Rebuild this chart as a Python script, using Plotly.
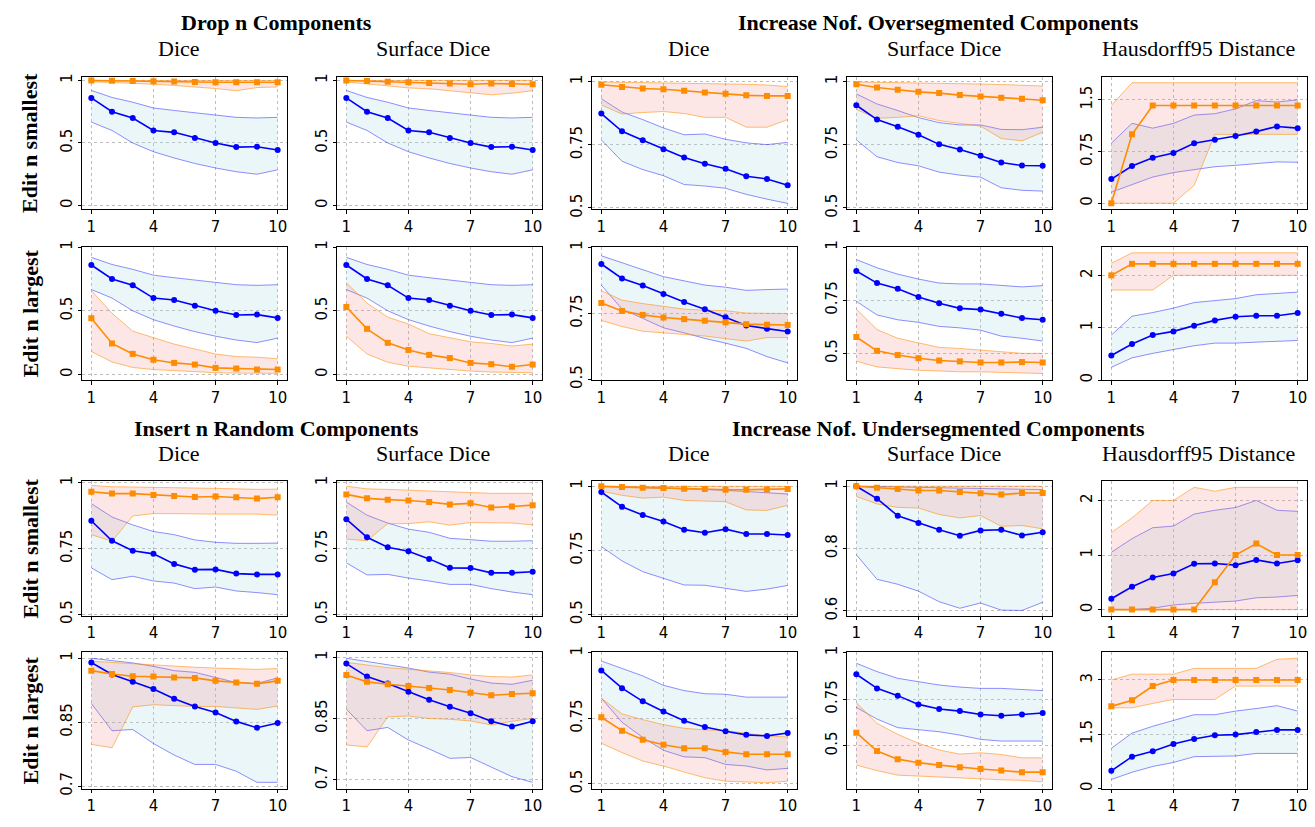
import plotly.graph_objects as go

# ---------------- data ----------------
X = [1, 2, 3, 4, 5, 6, 7, 8, 9, 10]
X_TICKS = [1, 4, 7, 10]

group_titles = ["Drop n Components", "Increase Nof. Oversegmented Components",
                "Insert n Random Components", "Increase Nof. Undersegmented Components"]
col_titles = ["Dice", "Surface Dice", "Dice", "Surface Dice", "Hausdorff95 Distance"]
row_titles = ["Edit n smallest", "Edit n largest", "Edit n smallest", "Edit n largest"]

# Drop n Components (blue identical in all four panels)
drop_blue_mean = [0.86, 0.75, 0.70, 0.60, 0.585, 0.54, 0.50, 0.467, 0.47, 0.444]
drop_blue_up = [0.92, 0.864, 0.826, 0.78, 0.76, 0.74, 0.72, 0.705, 0.70, 0.705]
drop_blue_lo = [0.667, 0.60, 0.50, 0.43, 0.38, 0.336, 0.30, 0.27, 0.25, 0.285]

r1c1_or_mean = [1.0, 0.997, 0.995, 0.993, 0.992, 0.988, 0.985, 0.985, 0.985, 0.985]
r1c1_or_up = [1.0, 1.0, 1.0, 1.0, 1.0, 1.0, 1.0, 1.0, 1.0, 1.0]
r1c1_or_lo = [0.99, 0.985, 0.975, 0.97, 0.96, 0.95, 0.935, 0.918, 0.943, 0.948]

r1c2_or_mean = [1.0, 0.995, 0.99, 0.985, 0.98, 0.975, 0.97, 0.975, 0.972, 0.97]
r1c2_or_up = [1.0, 1.0, 1.0, 1.0, 1.0, 1.0, 1.0, 1.0, 1.0, 1.0]
r1c2_or_lo = [0.987, 0.975, 0.957, 0.94, 0.933, 0.918, 0.90, 0.885, 0.898, 0.918]

r2c1_or_mean = [0.442, 0.243, 0.161, 0.115, 0.09, 0.077, 0.051, 0.046, 0.038, 0.038]
r2c1_or_up = [0.66, 0.48, 0.34, 0.29, 0.238, 0.20, 0.16, 0.14, 0.135, 0.123]
r2c1_or_lo = [0.18, 0.097, 0.054, 0.038, 0.03, 0.02, 0.013, 0.01, 0.008, 0.008]

r2c2_or_mean = [0.53, 0.358, 0.248, 0.192, 0.153, 0.128, 0.09, 0.08, 0.06, 0.077]
r2c2_or_up = [0.72, 0.56, 0.45, 0.396, 0.32, 0.29, 0.256, 0.243, 0.223, 0.238]
r2c2_or_lo = [0.30, 0.16, 0.095, 0.064, 0.051, 0.036, 0.026, 0.018, 0.013, 0.013]

# Increase Nof. Oversegmented Components
r1c3_bl_mean = [0.874, 0.804, 0.768, 0.733, 0.70, 0.675, 0.655, 0.626, 0.615, 0.59]
r1c3_bl_up = [0.933, 0.88, 0.85, 0.817, 0.79, 0.793, 0.772, 0.758, 0.751, 0.76]
r1c3_bl_lo = [0.77, 0.685, 0.652, 0.628, 0.593, 0.587, 0.578, 0.554, 0.535, 0.518]
r1c3_or_mean = [0.988, 0.979, 0.973, 0.970, 0.964, 0.957, 0.952, 0.946, 0.944, 0.944]
r1c3_or_up = [0.999, 0.998, 0.997, 0.996, 0.995, 0.994, 0.993, 0.99, 0.987, 0.981]
r1c3_or_lo = [0.908, 0.872, 0.878, 0.882, 0.874, 0.859, 0.859, 0.82, 0.82, 0.85]

r1c4_bl_mean = [0.907, 0.85, 0.822, 0.79, 0.752, 0.732, 0.707, 0.68, 0.668, 0.667]
r1c4_bl_up = [0.952, 0.912, 0.886, 0.858, 0.838, 0.829, 0.829, 0.811, 0.81, 0.82]
r1c4_bl_lo = [0.77, 0.703, 0.68, 0.667, 0.642, 0.63, 0.622, 0.58, 0.57, 0.567]
r1c4_or_mean = [0.99, 0.977, 0.968, 0.96, 0.955, 0.947, 0.942, 0.937, 0.933, 0.927]
r1c4_or_up = [0.999, 0.998, 0.997, 0.996, 0.995, 0.993, 0.991, 0.989, 0.986, 0.983]
r1c4_or_lo = [0.89, 0.855, 0.859, 0.865, 0.846, 0.835, 0.824, 0.775, 0.766, 0.80]

r1c5_bl_mean = [0.35, 0.54, 0.66, 0.73, 0.87, 0.92, 0.975, 1.04, 1.115, 1.09]
r1c5_bl_up = [0.87, 1.16, 1.09, 1.16, 1.28, 1.30, 1.37, 1.49, 1.47, 1.50]
r1c5_bl_lo = [0.16, 0.27, 0.38, 0.445, 0.49, 0.53, 0.55, 0.58, 0.60, 0.595]
r1c5_or_mean = [0.0, 1.0, 1.42, 1.42, 1.42, 1.42, 1.42, 1.42, 1.42, 1.42]
r1c5_or_up = [1.42, 1.75, 1.75, 1.75, 1.75, 1.75, 1.75, 1.75, 1.75, 1.75]
r1c5_or_lo = [0.0, 0.0, 0.0, 0.0, 0.26, 1.0, 1.0, 1.0, 1.0, 1.0]

r2c3_bl_mean = [0.937, 0.882, 0.855, 0.823, 0.793, 0.765, 0.735, 0.704, 0.692, 0.681]
r2c3_bl_up = [0.968, 0.941, 0.914, 0.889, 0.873, 0.857, 0.849, 0.837, 0.84, 0.842]
r2c3_bl_lo = [0.857, 0.766, 0.731, 0.695, 0.676, 0.655, 0.637, 0.617, 0.586, 0.562]
r2c3_or_mean = [0.789, 0.759, 0.744, 0.734, 0.728, 0.722, 0.716, 0.709, 0.707, 0.706]
r2c3_or_up = [0.836, 0.80, 0.787, 0.776, 0.766, 0.762, 0.76, 0.751, 0.75, 0.749]
r2c3_or_lo = [0.723, 0.70, 0.682, 0.676, 0.67, 0.664, 0.654, 0.645, 0.658, 0.658]

r2c4_bl_mean = [0.888, 0.831, 0.804, 0.765, 0.736, 0.712, 0.706, 0.687, 0.666, 0.658]
r2c4_bl_up = [0.942, 0.903, 0.873, 0.85, 0.831, 0.827, 0.827, 0.819, 0.813, 0.819]
r2c4_bl_lo = [0.745, 0.681, 0.658, 0.646, 0.627, 0.62, 0.609, 0.581, 0.571, 0.558]
r2c4_or_mean = [0.577, 0.512, 0.492, 0.477, 0.466, 0.462, 0.457, 0.457, 0.459, 0.457]
r2c4_or_up = [0.709, 0.612, 0.571, 0.551, 0.528, 0.523, 0.515, 0.509, 0.50, 0.50]
r2c4_or_lo = [0.463, 0.436, 0.428, 0.42, 0.417, 0.413, 0.413, 0.411, 0.41, 0.405]

r2c5_bl_mean = [0.47, 0.69, 0.86, 0.93, 1.04, 1.14, 1.21, 1.23, 1.23, 1.28]
r2c5_bl_up = [0.86, 1.22, 1.29, 1.375, 1.48, 1.525, 1.556, 1.63, 1.656, 1.68]
r2c5_bl_lo = [0.244, 0.425, 0.51, 0.58, 0.656, 0.706, 0.706, 0.725, 0.744, 0.756]
r2c5_or_mean = [2.0, 2.22, 2.22, 2.22, 2.22, 2.22, 2.22, 2.22, 2.22, 2.22]
r2c5_or_up = [2.23, 2.43, 2.43, 2.43, 2.43, 2.43, 2.43, 2.43, 2.43, 2.43]
r2c5_or_lo = [1.72, 1.72, 1.72, 2.0, 2.0, 2.0, 2.0, 2.0, 2.0, 2.0]

# Insert n Random Components
r3c1_bl_mean = [0.856, 0.78, 0.742, 0.73, 0.692, 0.67, 0.671, 0.655, 0.652, 0.652]
r3c1_bl_up = [0.921, 0.87, 0.84, 0.815, 0.803, 0.783, 0.774, 0.77, 0.77, 0.771]
r3c1_bl_lo = [0.677, 0.632, 0.645, 0.627, 0.619, 0.598, 0.604, 0.589, 0.583, 0.575]
r3c1_or_mean = [0.966, 0.959, 0.959, 0.954, 0.95, 0.946, 0.948, 0.945, 0.94, 0.945]
r3c1_or_up = [0.99, 0.985, 0.984, 0.982, 0.981, 0.98, 0.979, 0.976, 0.975, 0.976]
r3c1_or_lo = [0.803, 0.778, 0.874, 0.883, 0.883, 0.881, 0.881, 0.881, 0.881, 0.877]

r3c2_bl_mean = [0.862, 0.793, 0.755, 0.74, 0.711, 0.677, 0.676, 0.658, 0.658, 0.662]
r3c2_bl_up = [0.927, 0.877, 0.847, 0.824, 0.812, 0.789, 0.784, 0.778, 0.778, 0.78]
r3c2_bl_lo = [0.696, 0.65, 0.652, 0.638, 0.627, 0.614, 0.614, 0.598, 0.585, 0.575]
r3c2_or_mean = [0.956, 0.941, 0.936, 0.933, 0.927, 0.918, 0.922, 0.906, 0.91, 0.915]
r3c2_or_up = [0.987, 0.977, 0.975, 0.972, 0.969, 0.966, 0.961, 0.96, 0.96, 0.96]
r3c2_or_lo = [0.786, 0.78, 0.845, 0.845, 0.852, 0.839, 0.849, 0.849, 0.847, 0.84]

r4c1_bl_mean = [0.99, 0.962, 0.945, 0.928, 0.905, 0.887, 0.873, 0.852, 0.837, 0.848]
r4c1_bl_up = [1.0, 0.995, 0.989, 0.981, 0.971, 0.967, 0.955, 0.943, 0.941, 0.954]
r4c1_bl_lo = [0.894, 0.83, 0.833, 0.80, 0.773, 0.751, 0.751, 0.735, 0.709, 0.709]
r4c1_or_mean = [0.971, 0.963, 0.958, 0.957, 0.955, 0.954, 0.947, 0.943, 0.94, 0.947]
r4c1_or_up = [0.993, 0.99, 0.987, 0.984, 0.981, 0.979, 0.977, 0.976, 0.974, 0.976]
r4c1_or_lo = [0.798, 0.79, 0.886, 0.891, 0.889, 0.887, 0.887, 0.883, 0.88, 0.888]

r4c2_bl_mean = [0.985, 0.953, 0.936, 0.916, 0.896, 0.879, 0.863, 0.843, 0.83, 0.843]
r4c2_bl_up = [0.998, 0.99, 0.982, 0.974, 0.964, 0.959, 0.947, 0.937, 0.934, 0.944]
r4c2_bl_lo = [0.873, 0.82, 0.828, 0.797, 0.775, 0.752, 0.754, 0.73, 0.707, 0.693]
r4c2_or_mean = [0.957, 0.94, 0.934, 0.93, 0.925, 0.92, 0.913, 0.907, 0.91, 0.912]
r4c2_or_up = [0.988, 0.981, 0.975, 0.971, 0.967, 0.963, 0.957, 0.953, 0.952, 0.957]
r4c2_or_lo = [0.785, 0.78, 0.854, 0.856, 0.85, 0.848, 0.844, 0.834, 0.843, 0.85]

# Increase Nof. Undersegmented Components
r3c3_bl_mean = [0.978, 0.92, 0.888, 0.863, 0.831, 0.819, 0.833, 0.814, 0.814, 0.81]
r3c3_bl_up = [1.0, 0.997, 0.995, 0.993, 0.99, 0.988, 0.985, 0.98, 0.975, 0.97]
r3c3_bl_lo = [0.765, 0.709, 0.667, 0.641, 0.615, 0.614, 0.603, 0.59, 0.599, 0.613]
r3c3_or_mean = [1.0, 0.997, 0.995, 0.994, 0.991, 0.99, 0.987, 0.987, 0.988, 0.99]
r3c3_or_up = [1.0, 1.0, 1.0, 1.0, 1.0, 1.0, 1.0, 1.0, 1.0, 1.0]
r3c3_or_lo = [0.981, 0.965, 0.954, 0.958, 0.945, 0.942, 0.94, 0.908, 0.906, 0.926]

r3c4_bl_mean = [1.0, 0.96, 0.905, 0.882, 0.86, 0.841, 0.858, 0.86, 0.842, 0.852]
r3c4_bl_up = [1.0, 0.999, 0.998, 0.997, 0.996, 0.995, 0.994, 0.993, 0.992, 0.989]
r3c4_bl_lo = [0.78, 0.701, 0.685, 0.663, 0.629, 0.608, 0.625, 0.602, 0.601, 0.627]
r3c4_or_mean = [1.0, 0.995, 0.991, 0.986, 0.986, 0.981, 0.977, 0.973, 0.978, 0.978]
r3c4_or_up = [1.0, 1.0, 1.0, 1.0, 1.0, 1.0, 1.0, 1.0, 1.0, 1.0]
r3c4_or_lo = [0.967, 0.943, 0.932, 0.93, 0.909, 0.898, 0.906, 0.871, 0.874, 0.863]

r3c5_bl_mean = [0.2, 0.42, 0.59, 0.66, 0.84, 0.845, 0.815, 0.91, 0.845, 0.905]
r3c5_bl_up = [1.05, 1.3, 1.5, 1.53, 1.75, 1.82, 1.87, 2.0, 1.82, 1.8]
r3c5_bl_lo = [0.0, 0.0, 0.025, 0.085, 0.115, 0.14, 0.157, 0.217, 0.23, 0.26]
r3c5_or_mean = [0.0, 0.0, 0.0, 0.0, 0.0, 0.5, 1.0, 1.21, 1.0, 1.0]
r3c5_or_up = [1.41, 1.68, 2.0, 2.0, 2.24, 2.17, 2.24, 2.24, 2.24, 2.24]
r3c5_or_lo = [0.0, 0.0, 0.0, 0.0, 0.0, 0.0, 0.0, 0.0, 0.0, 0.0]

r4c3_bl_mean = [0.933, 0.865, 0.815, 0.776, 0.741, 0.717, 0.701, 0.687, 0.683, 0.694]
r4c3_bl_up = [0.969, 0.94, 0.912, 0.876, 0.856, 0.844, 0.842, 0.831, 0.831, 0.831]
r4c3_bl_lo = [0.827, 0.735, 0.677, 0.628, 0.603, 0.60, 0.574, 0.568, 0.553, 0.559]
r4c3_or_mean = [0.754, 0.703, 0.668, 0.649, 0.636, 0.636, 0.622, 0.613, 0.613, 0.613]
r4c3_or_up = [0.827, 0.767, 0.745, 0.726, 0.712, 0.706, 0.703, 0.692, 0.683, 0.679]
r4c3_or_lo = [0.655, 0.619, 0.587, 0.568, 0.545, 0.523, 0.51, 0.506, 0.504, 0.51]

r4c4_bl_mean = [0.884, 0.808, 0.769, 0.722, 0.697, 0.686, 0.668, 0.661, 0.668, 0.676]
r4c4_bl_up = [0.943, 0.898, 0.862, 0.844, 0.826, 0.815, 0.808, 0.808, 0.803, 0.796]
r4c4_bl_lo = [0.706, 0.643, 0.597, 0.588, 0.575, 0.557, 0.534, 0.525, 0.525, 0.525]
r4c4_or_mean = [0.57, 0.471, 0.428, 0.409, 0.396, 0.384, 0.375, 0.367, 0.358, 0.358]
r4c4_or_up = [0.731, 0.62, 0.561, 0.513, 0.477, 0.455, 0.462, 0.453, 0.435, 0.435]
r4c4_or_lo = [0.396, 0.366, 0.342, 0.337, 0.332, 0.324, 0.321, 0.317, 0.314, 0.306]

r4c5_bl_mean = [0.49, 0.88, 1.03, 1.23, 1.37, 1.47, 1.49, 1.56, 1.62, 1.62]
r4c5_bl_up = [1.11, 1.53, 1.72, 1.87, 2.04, 2.04, 2.14, 2.21, 2.29, 2.14]
r4c5_bl_lo = [0.25, 0.45, 0.61, 0.72, 0.88, 0.88, 0.9, 0.97, 0.97, 0.97]
r4c5_or_mean = [2.27, 2.44, 2.83, 3.0, 3.0, 3.0, 3.0, 3.0, 3.0, 3.0]
r4c5_or_up = [3.0, 3.16, 3.16, 3.16, 3.32, 3.32, 3.32, 3.32, 3.57, 3.6]
r4c5_or_lo = [2.23, 2.23, 2.35, 2.46, 2.46, 2.46, 2.83, 2.83, 2.83, 2.83]

# y-axis ticks per panel (row, col)
y_ticks = {
    (0, 0): [0, 0.5, 1], (0, 1): [0, 0.5, 1], (0, 2): [0.5, 0.75, 1], (0, 3): [0.5, 0.75, 1], (0, 4): [0, 0.75, 1.5],
    (1, 0): [0, 0.5, 1], (1, 1): [0, 0.5, 1], (1, 2): [0.5, 0.75, 1], (1, 3): [0.5, 0.75, 1], (1, 4): [0, 1, 2],
    (2, 0): [0.5, 0.75, 1], (2, 1): [0.5, 0.75, 1], (2, 2): [0.5, 0.75, 1], (2, 3): [0.6, 0.8, 1], (2, 4): [0, 1, 2],
    (3, 0): [0.7, 0.85, 1], (3, 1): [0.7, 0.85, 1], (3, 2): [0.5, 0.75, 1], (3, 3): [0.5, 0.75, 1], (3, 4): [0, 1.5, 3],
}

# ---------------- panel assembly ----------------
panels = {
    (0, 0): (drop_blue_mean, drop_blue_lo, drop_blue_up, r1c1_or_mean, r1c1_or_lo, r1c1_or_up),
    (0, 1): (drop_blue_mean, drop_blue_lo, drop_blue_up, r1c2_or_mean, r1c2_or_lo, r1c2_or_up),
    (1, 0): (drop_blue_mean, drop_blue_lo, drop_blue_up, r2c1_or_mean, r2c1_or_lo, r2c1_or_up),
    (1, 1): (drop_blue_mean, drop_blue_lo, drop_blue_up, r2c2_or_mean, r2c2_or_lo, r2c2_or_up),
    (0, 2): (r1c3_bl_mean, r1c3_bl_lo, r1c3_bl_up, r1c3_or_mean, r1c3_or_lo, r1c3_or_up),
    (0, 3): (r1c4_bl_mean, r1c4_bl_lo, r1c4_bl_up, r1c4_or_mean, r1c4_or_lo, r1c4_or_up),
    (0, 4): (r1c5_bl_mean, r1c5_bl_lo, r1c5_bl_up, r1c5_or_mean, r1c5_or_lo, r1c5_or_up),
    (1, 2): (r2c3_bl_mean, r2c3_bl_lo, r2c3_bl_up, r2c3_or_mean, r2c3_or_lo, r2c3_or_up),
    (1, 3): (r2c4_bl_mean, r2c4_bl_lo, r2c4_bl_up, r2c4_or_mean, r2c4_or_lo, r2c4_or_up),
    (1, 4): (r2c5_bl_mean, r2c5_bl_lo, r2c5_bl_up, r2c5_or_mean, r2c5_or_lo, r2c5_or_up),
    (2, 0): (r3c1_bl_mean, r3c1_bl_lo, r3c1_bl_up, r3c1_or_mean, r3c1_or_lo, r3c1_or_up),
    (2, 1): (r3c2_bl_mean, r3c2_bl_lo, r3c2_bl_up, r3c2_or_mean, r3c2_or_lo, r3c2_or_up),
    (2, 2): (r3c3_bl_mean, r3c3_bl_lo, r3c3_bl_up, r3c3_or_mean, r3c3_or_lo, r3c3_or_up),
    (2, 3): (r3c4_bl_mean, r3c4_bl_lo, r3c4_bl_up, r3c4_or_mean, r3c4_or_lo, r3c4_or_up),
    (2, 4): (r3c5_bl_mean, r3c5_bl_lo, r3c5_bl_up, r3c5_or_mean, r3c5_or_lo, r3c5_or_up),
    (3, 0): (r4c1_bl_mean, r4c1_bl_lo, r4c1_bl_up, r4c1_or_mean, r4c1_or_lo, r4c1_or_up),
    (3, 1): (r4c2_bl_mean, r4c2_bl_lo, r4c2_bl_up, r4c2_or_mean, r4c2_or_lo, r4c2_or_up),
    (3, 2): (r4c3_bl_mean, r4c3_bl_lo, r4c3_bl_up, r4c3_or_mean, r4c3_or_lo, r4c3_or_up),
    (3, 3): (r4c4_bl_mean, r4c4_bl_lo, r4c4_bl_up, r4c4_or_mean, r4c4_or_lo, r4c4_or_up),
    (3, 4): (r4c5_bl_mean, r4c5_bl_lo, r4c5_bl_up, r4c5_or_mean, r4c5_or_lo, r4c5_or_up),
}

# ---------------- layout geometry (pixels) ----------------
W, H = 1315, 827
col_px = [(82 + 255 * i, 287 + 255 * i) for i in range(5)]
row_px = [(72, 207), (245, 381), (484, 621), (658, 797)]


def pad_range(lo, hi, p=0.05):
    d = hi - lo
    return [lo - p * d, hi + p * d]


y_ranges = {}
for key, arrs in panels.items():
    vals = [v for a in arrs for v in a]
    y_ranges[key] = pad_range(min(vals), max(vals))
# axes limits adjusted to match the original figure
y_ranges[(0, 0)] = [-0.03, 1.03]
y_ranges[(0, 1)] = [-0.03, 1.03]
y_ranges[(0, 2)] = [0.495, 1.02]
y_ranges[(0, 3)] = [0.495, 1.02]
y_ranges[(1, 0)] = [-0.045, 1.005]
y_ranges[(1, 1)] = [-0.045, 1.005]
y_ranges[(1, 2)] = [0.497, 1.003]
y_ranges[(1, 3)] = [0.374, 1.003]
y_ranges[(1, 4)] = [0.0, 2.55]
y_ranges[(2, 0)] = [0.495, 1.006]
y_ranges[(2, 1)] = [0.495, 1.006]
y_ranges[(2, 2)] = [0.495, 1.02]
y_ranges[(2, 3)] = [0.584, 1.016]
y_ranges[(3, 2)] = [0.482, 1.003]
y_ranges[(3, 3)] = [0.27, 1.003]
y_ranges[(3, 4)] = [0.0, 3.77]

BLUE = "#0000ff"
ORANGE = "#ff8c00"
BLUE_FILL = "rgba(173,216,230,0.24)"
ORANGE_FILL = "rgba(240,128,128,0.2)"
BLUE_EDGE = "rgba(0,0,255,0.55)"
ORANGE_EDGE = "rgba(255,140,0,0.7)"

TICK_FONT = dict(family="DejaVu Sans", size=15, color="black")
SERIF = "Liberation Serif, Times New Roman, serif"

fig = go.Figure()
layout = dict(width=W, height=H, margin=dict(l=0, r=0, t=0, b=0),
              paper_bgcolor="white", plot_bgcolor="white", showlegend=False)

idx = 0
for r in range(4):
    for c in range(5):
        idx += 1
        xa = "x" if idx == 1 else f"x{idx}"
        ya = "y" if idx == 1 else f"y{idx}"
        bm, bl, bu, om, ol, ou = panels[(r, c)]

        fig.add_trace(go.Scatter(x=X, y=bl, mode="lines", line=dict(color=BLUE_EDGE, width=0.8),
                                 xaxis=xa, yaxis=ya, hoverinfo="skip"))
        fig.add_trace(go.Scatter(x=X, y=bu, mode="lines", line=dict(color=BLUE_EDGE, width=0.8),
                                 fill="tonexty", fillcolor=BLUE_FILL, xaxis=xa, yaxis=ya, hoverinfo="skip"))
        fig.add_trace(go.Scatter(x=X, y=ol, mode="lines", line=dict(color=ORANGE_EDGE, width=0.8),
                                 xaxis=xa, yaxis=ya, hoverinfo="skip"))
        fig.add_trace(go.Scatter(x=X, y=ou, mode="lines", line=dict(color=ORANGE_EDGE, width=0.8),
                                 fill="tonexty", fillcolor=ORANGE_FILL, xaxis=xa, yaxis=ya, hoverinfo="skip"))
        fig.add_trace(go.Scatter(x=X, y=bm, mode="lines+markers", line=dict(color=BLUE, width=1.6),
                                 marker=dict(symbol="circle", size=6, color=BLUE),
                                 xaxis=xa, yaxis=ya))
        fig.add_trace(go.Scatter(x=X, y=om, mode="lines+markers", line=dict(color=ORANGE, width=1.6),
                                 marker=dict(symbol="square", size=6, color=ORANGE),
                                 xaxis=xa, yaxis=ya))

        x0, x1 = col_px[c]
        y0, y1 = row_px[r]
        xdom = [x0 / W, x1 / W]
        ydom = [1 - y1 / H, 1 - y0 / H]
        yt = y_ticks[(r, c)]
        common = dict(showline=True, linecolor="black", linewidth=1, mirror=True,
                      showgrid=True, gridcolor="#bdbdbd", gridwidth=0.8, griddash="dot",
                      zeroline=False, ticks="outside", ticklen=3.5, tickwidth=0.8,
                      tickcolor="black", tickfont=TICK_FONT)
        layout["xaxis" if idx == 1 else f"xaxis{idx}"] = dict(
            domain=xdom, anchor=ya, range=[0.55, 10.45], tickmode="array",
            tickvals=X_TICKS, ticktext=[str(v) for v in X_TICKS], **common)
        layout["yaxis" if idx == 1 else f"yaxis{idx}"] = dict(
            domain=ydom, anchor=xa, range=y_ranges[(r, c)], tickmode="array",
            tickvals=yt, ticktext=[("%g" % v) for v in yt], tickangle=-90, **common)

fig.update_layout(**layout)

annotations = []
group_pos = [(276, 17), (938, 17), (276, 430), (938, 430)]
for t, (gx, gy) in zip(group_titles, group_pos):
    annotations.append(dict(text=f"<b>{t}</b>", x=gx / W, y=1 - gy / H, xref="paper", yref="paper",
                            showarrow=False, xanchor="center", yanchor="middle",
                            font=dict(family=SERIF, size=22, color="black")))
for block_y in (43, 456):
    for c, t in enumerate(col_titles):
        cx = (col_px[c][0] + col_px[c][1]) / 2 - 6
        annotations.append(dict(text=t, x=cx / W, y=1 - block_y / H, xref="paper", yref="paper",
                                showarrow=False, xanchor="center", yanchor="middle",
                                font=dict(family=SERIF, size=22, color="black")))
for r, t in enumerate(row_titles):
    cy = (row_px[r][0] + row_px[r][1]) / 2
    annotations.append(dict(text=f"<b>{t}</b>", x=30 / W, y=1 - cy / H, xref="paper", yref="paper",
                            showarrow=False, xanchor="center", yanchor="middle", textangle=-90,
                            font=dict(family=SERIF, size=22, color="black")))
fig.update_layout(annotations=annotations)

fig.write_html("out.html", config={"displayModeBar": False},
               post_script="document.body.style.margin='0px';")
